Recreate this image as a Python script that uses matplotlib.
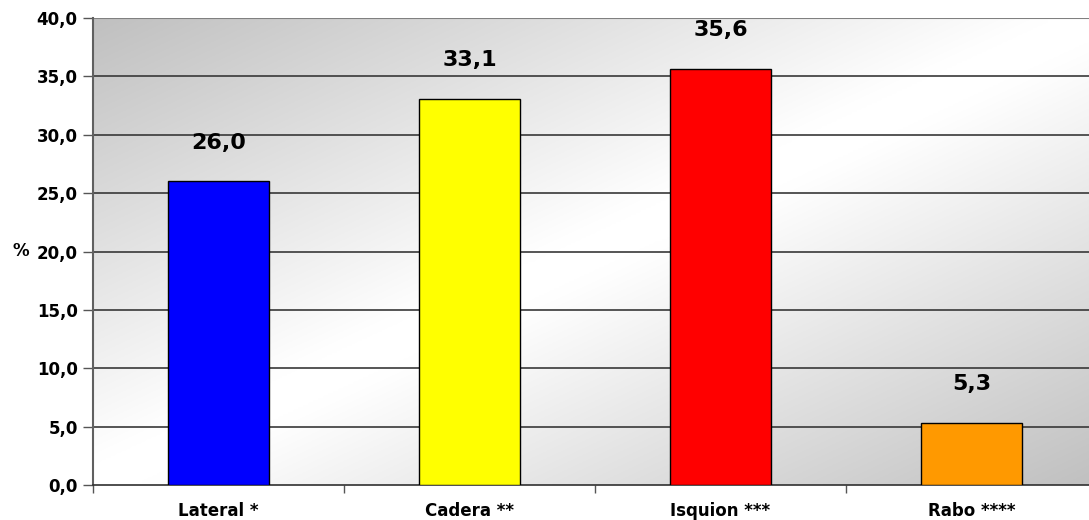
import numpy as np
import matplotlib
matplotlib.use("Agg")
import matplotlib.pyplot as plt
from matplotlib.colors import LinearSegmentedColormap

categories = ["Lateral *", "Cadera **", "Isquion ***", "Rabo ****"]
values = [26.0, 33.1, 35.6, 5.3]
value_labels = ["26,0", "33,1", "35,6", "5,3"]
colors = ["#0000FF", "#FFFF00", "#FF0000", "#FF9900"]
yticks = [0, 5, 10, 15, 20, 25, 30, 35, 40]
ytick_labels = ["0,0", "5,0", "10,0", "15,0", "20,0", "25,0", "30,0", "35,0", "40,0"]

plt.rcParams['font.family'] = ['DejaVu Sans']

fig = plt.figure(figsize=(10.89, 5.2), dpi=100)
ax = fig.add_axes([93/1089, 1-485/520, 1004/1089, (485-18)/520])

# gradient background
ny, nx = 200, 400
xs = np.linspace(0, 1, nx)
ys = np.linspace(0, 1, ny)
X, Y = np.meshgrid(xs, ys)
u = (X + Y) / 2.0  # 0 at top-left (row 0 = top), 1 at bottom-right
w = 1 - np.abs(2*u - 1)
w = np.clip(w*1.05, 0, 1)
cmap = LinearSegmentedColormap.from_list("g", ["#c0c0c0", "#ffffff"])
ax.imshow(w, cmap=cmap, vmin=0, vmax=1, extent=[-0.5, 3.5, 0, 40], aspect='auto',
          origin='upper', zorder=0, interpolation='bicubic')

x = np.arange(len(categories))
ax.bar(x, values, width=0.4, color=colors, edgecolor='black', linewidth=1.0, zorder=3)

for xi, v, lab in zip(x, values, value_labels):
    ax.text(xi, v + 3.33, lab, ha='center', va='center', fontsize=16,
            fontweight='bold', color='black', zorder=4)

ax.set_xlim(-0.5, 3.5)
ax.set_ylim(0, 40)
ax.set_yticks(yticks)
ax.set_yticklabels(ytick_labels, fontsize=12, fontweight='bold')
for yv in yticks[1:-1]:
    ax.axhline(yv, color='#383838', linewidth=1.2, zorder=1)
ax.axhline(40, color='#808080', linewidth=1.5, zorder=1)

ax.set_xticks([-0.5, 0.5, 1.5, 2.5, 3.5])
ax.set_xticklabels([])
ax.set_xticks(x, minor=True)
ax.set_xticklabels(categories, minor=True, fontsize=12, fontweight='bold')
ax.tick_params(axis='x', which='minor', length=0, pad=12)
ax.tick_params(axis='x', which='major', length=6, width=1, color='#555555')
ax.tick_params(axis='y', length=7, width=1, color='#555555', pad=4)

for s in ['top', 'right']:
    ax.spines[s].set_visible(False)
ax.spines['left'].set_color('#606060')
ax.spines['left'].set_linewidth(1.5)
ax.spines['bottom'].set_color('#303030')
ax.spines['bottom'].set_linewidth(1.2)

fig.text(29/1089, 1-251/520, "%", fontsize=12, fontweight='bold', va='center', ha='right')

fig.savefig("out.png", dpi=100, facecolor='white')
